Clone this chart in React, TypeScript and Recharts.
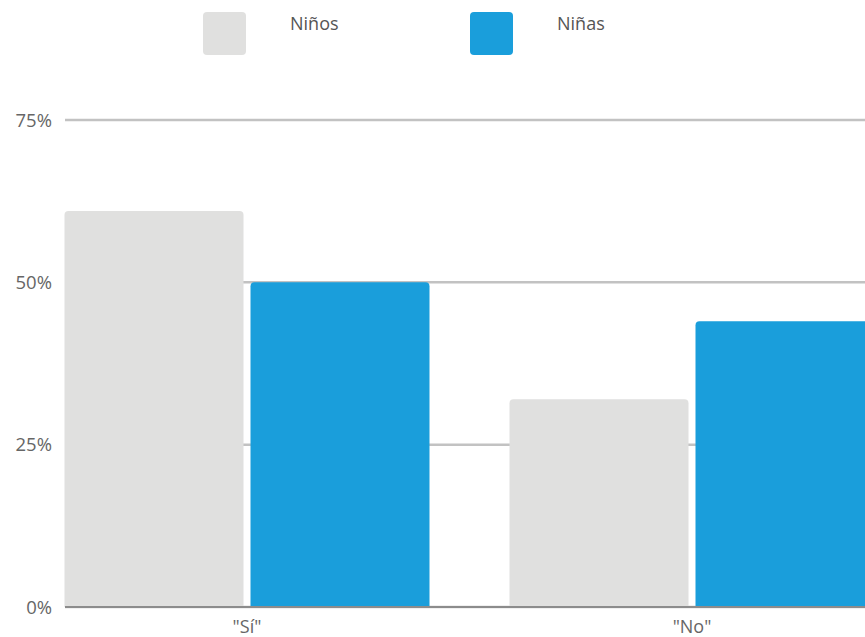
import { BarChart, Bar, XAxis, YAxis, CartesianGrid, Legend } from 'recharts'

const categories = ['"Sí"', '"No"']
const ninos = [61, 32]
const ninas = [50, 44]
const yTicks = [0, 25, 50, 75]
const series = [
  { key: 'ninos', name: 'Niños', color: '#e0e0df' },
  { key: 'ninas', name: 'Niñas', color: '#1a9edb' },
]

const data = categories.map((name, i) => ({ name, ninos: ninos[i], ninas: ninas[i] }))

const font = '"Open Sans", Roboto, sans-serif'

const renderLegend = () => (
  <div style={{ display: 'flex', height: 60, paddingLeft: 203, fontFamily: font }}>
    {series.map((s) => (
      <div key={s.key} style={{ display: 'flex', width: 267, alignItems: 'flex-start' }}>
        <div style={{ width: 43, height: 43, marginTop: 12, background: s.color, borderRadius: 4 }} />
        <span style={{ marginLeft: 44, marginTop: 12, fontSize: 18, color: '#555', lineHeight: '22px' }}>
          {s.name}
        </span>
      </div>
    ))}
  </div>
)

export default function App() {
  return (
    <div style={{ position: 'absolute', top: 0, left: 0, width: 865, height: 637, overflow: 'hidden', background: '#fff' }}>
      <BarChart
        width={920}
        height={637}
        data={data}
        margin={{ top: 60, right: 5.5, left: 0, bottom: 0 }}
        barSize={179}
        barGap={7}
      >
        <CartesianGrid vertical={false} stroke="#c2c2c2" strokeWidth={2.5} />
        <Legend
          verticalAlign="top"
          align="left"
          content={renderLegend}
          wrapperStyle={{ top: 0, left: 0, height: 60 }}
        />
        <YAxis
          width={65}
          domain={[0, 75]}
          ticks={yTicks}
          tickFormatter={(v: number) => `${v}%`}
          axisLine={false}
          tickLine={false}
          tickSize={6}
          tickMargin={7}
          tick={{ fill: '#666', fontSize: 18.5, fontFamily: font }}
        />
        <XAxis
          dataKey="name"
          height={30}
          padding={{ left: -40.5, right: 0 }}
          axisLine={{ stroke: '#8c8c8c', strokeWidth: 2 }}
          tickLine={false}
          tickMargin={7}
          tick={{ fill: '#666', fontSize: 18, fontFamily: font }}
        />
        {series.map((s) => (
          <Bar
            key={s.key}
            dataKey={s.key}
            name={s.name}
            fill={s.color}
            radius={[4, 4, 0, 0]}
            isAnimationActive={false}
          />
        ))}
      </BarChart>
    </div>
  )
}
